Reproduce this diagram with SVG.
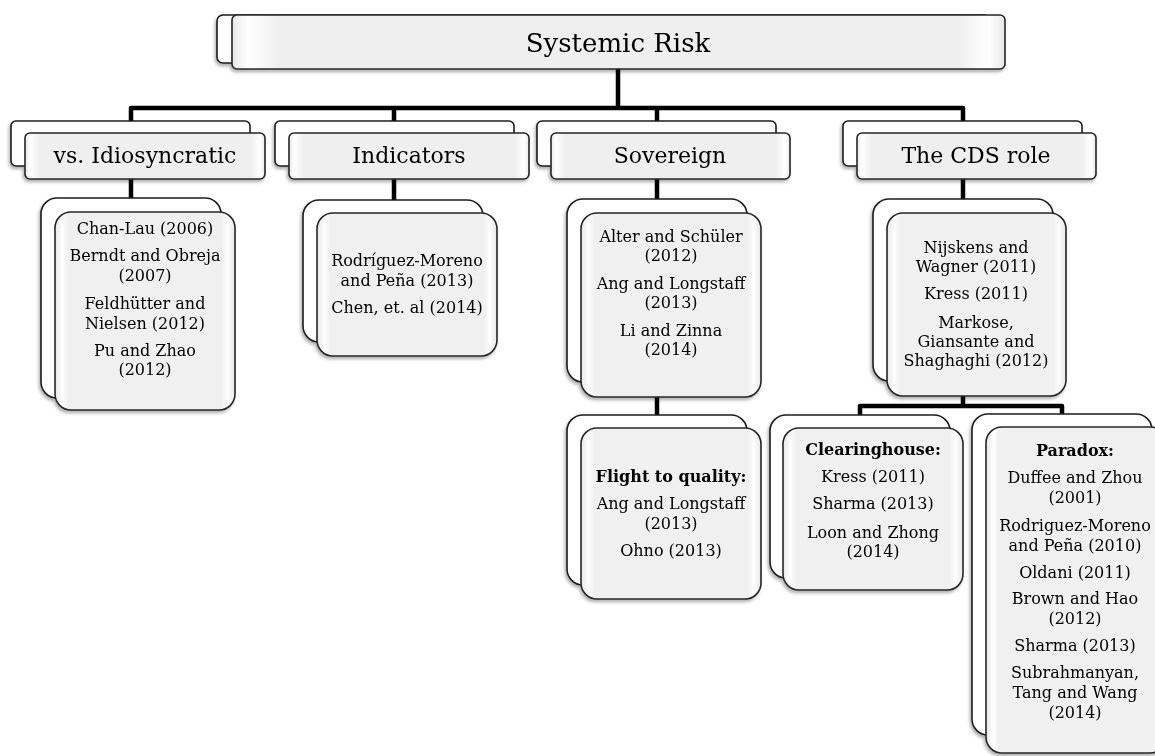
<svg xmlns="http://www.w3.org/2000/svg" width="1155" height="756" viewBox="0 0 1155 756">
  <defs>
    <linearGradient id="bevelWide" x1="0" y1="0" x2="1" y2="0">
      <stop offset="0" stop-color="#e6e6e6"/>
      <stop offset="0.02" stop-color="#ffffff"/>
      <stop offset="0.06" stop-color="#efefef"/>
      <stop offset="0.94" stop-color="#efefef"/>
      <stop offset="0.98" stop-color="#ffffff"/>
      <stop offset="1" stop-color="#e6e6e6"/>
    </linearGradient>
    <linearGradient id="bevelTall" x1="0" y1="0" x2="1" y2="0">
      <stop offset="0" stop-color="#e8e8e8"/>
      <stop offset="0.025" stop-color="#f4f4f4"/>
      <stop offset="0.04" stop-color="#ffffff"/>
      <stop offset="0.07" stop-color="#f0f0f0"/>
      <stop offset="0.93" stop-color="#f0f0f0"/>
      <stop offset="0.96" stop-color="#ffffff"/>
      <stop offset="0.975" stop-color="#f4f4f4"/>
      <stop offset="1" stop-color="#e8e8e8"/>
    </linearGradient>
    <filter id="shadow" x="-10%" y="-10%" width="120%" height="130%">
      <feDropShadow dx="-1.5" dy="2.5" stdDeviation="1.8" flood-color="#000" flood-opacity="0.3"/>
    </filter>
  </defs>
  <style>
    .back { fill: #ffffff; stroke: #1c1c1c; stroke-width: 1.6; }
    .front1 { fill: url(#bevelWide); stroke: #262626; stroke-width: 1.6; }
    .front2 { fill: url(#bevelTall); stroke: #262626; stroke-width: 1.6; }
    .conn { fill: none; stroke: #000; stroke-width: 4.5; stroke-linejoin: round; }
    .t0 { font-family: "DejaVu Serif", "Liberation Serif", serif; font-size: 26px; fill: #000; text-anchor: middle; }
    .t1 { font-family: "DejaVu Serif", "Liberation Serif", serif; font-size: 22px; fill: #000; text-anchor: middle; }
    .t2 { font-family: "DejaVu Serif", "Liberation Serif", serif; font-size: 16px; fill: #000; text-anchor: middle; }
    .b { font-weight: bold; }
  </style>

  <!-- connectors -->
  <g id="connectors">
    <path class="conn" d="M618,69 V108"/>
    <path class="conn" d="M131,121 V108 H963 V121"/>
    <path class="conn" d="M394,108 V121"/>
    <path class="conn" d="M657,108 V121"/>
    <path class="conn" d="M131,179 V198"/>
    <path class="conn" d="M394,179 V200"/>
    <path class="conn" d="M657,179 V199"/>
    <path class="conn" d="M963,179 V199"/>
    <path class="conn" d="M657,397 V415"/>
    <path class="conn" d="M963,396 V406"/>
    <path class="conn" d="M860,415 V406 H1062 V414"/>
  </g>

  <!-- root -->
  <g id="systemic-risk" filter="url(#shadow)">
    <rect class="back" x="217" y="15" width="773" height="48" rx="6"/>
    <rect class="front1" x="232" y="15" width="773" height="54" rx="5"/>
    <text class="t0" x="618" y="52">Systemic Risk</text>
  </g>

  <!-- first level -->
  <g id="vs-idiosyncratic" filter="url(#shadow)">
    <rect class="back" x="11" y="121" width="239" height="45" rx="5"/>
    <rect class="front1" x="25" y="133" width="240" height="46" rx="5"/>
    <text class="t1" x="145" y="163">vs. Idiosyncratic</text>
  </g>
  <g id="indicators" filter="url(#shadow)">
    <rect class="back" x="275" y="121" width="239" height="45" rx="5"/>
    <rect class="front1" x="289" y="133" width="240" height="46" rx="5"/>
    <text class="t1" x="409" y="163">Indicators</text>
  </g>
  <g id="sovereign" filter="url(#shadow)">
    <rect class="back" x="537" y="121" width="239" height="45" rx="5"/>
    <rect class="front1" x="551" y="133" width="239" height="46" rx="5"/>
    <text class="t1" x="670" y="163">Sovereign</text>
  </g>
  <g id="cds-role" filter="url(#shadow)">
    <rect class="back" x="843" y="121" width="239" height="45" rx="5"/>
    <rect class="front1" x="857" y="133" width="239" height="46" rx="5"/>
    <text class="t1" x="976" y="163">The CDS role</text>
  </g>

  <!-- second level -->
  <g id="idiosyncratic-refs" filter="url(#shadow)">
    <rect class="back" x="41" y="198" width="180" height="200" rx="16"/>
    <rect class="front2" x="55" y="212" width="180" height="198" rx="16"/>
    <text class="t2" x="145" y="234">Chan-Lau (2006)</text>
    <text class="t2" x="145" y="261">Berndt and Obreja</text>
    <text class="t2" x="145" y="281">(2007)</text>
    <text class="t2" x="145" y="309">Feldhütter and</text>
    <text class="t2" x="145" y="329">Nielsen (2012)</text>
    <text class="t2" x="145" y="356">Pu and Zhao</text>
    <text class="t2" x="145" y="375">(2012)</text>
  </g>
  <g id="indicators-refs" filter="url(#shadow)">
    <rect class="back" x="303" y="200" width="180" height="142" rx="16"/>
    <rect class="front2" x="317" y="213" width="180" height="143" rx="16"/>
    <text class="t2" x="407" y="266">Rodríguez-Moreno</text>
    <text class="t2" x="407" y="286">and Peña (2013)</text>
    <text class="t2" x="407" y="313">Chen, et. al (2014)</text>
  </g>
  <g id="sovereign-refs" filter="url(#shadow)">
    <rect class="back" x="567" y="199" width="180" height="183" rx="16"/>
    <rect class="front2" x="581" y="213" width="180" height="184" rx="16"/>
    <text class="t2" x="671" y="242">Alter and Schüler</text>
    <text class="t2" x="671" y="261">(2012)</text>
    <text class="t2" x="671" y="289">Ang and Longstaff</text>
    <text class="t2" x="671" y="308">(2013)</text>
    <text class="t2" x="671" y="336">Li and Zinna</text>
    <text class="t2" x="671" y="355">(2014)</text>
  </g>
  <g id="flight-to-quality" filter="url(#shadow)">
    <rect class="back" x="567" y="415" width="180" height="170" rx="16"/>
    <rect class="front2" x="581" y="428" width="180" height="171" rx="16"/>
    <text class="t2 b" x="671" y="482">Flight to quality:</text>
    <text class="t2" x="671" y="509">Ang and Longstaff</text>
    <text class="t2" x="671" y="529">(2013)</text>
    <text class="t2" x="671" y="556">Ohno (2013)</text>
  </g>
  <g id="cds-refs" filter="url(#shadow)">
    <rect class="back" x="873" y="199" width="180" height="182" rx="16"/>
    <rect class="front2" x="887" y="213" width="179" height="183" rx="16"/>
    <text class="t2" x="976" y="253">Nijskens and</text>
    <text class="t2" x="976" y="272">Wagner (2011)</text>
    <text class="t2" x="976" y="299">Kress (2011)</text>
    <text class="t2" x="976" y="328">Markose,</text>
    <text class="t2" x="976" y="347">Giansante and</text>
    <text class="t2" x="976" y="366">Shaghaghi (2012)</text>
  </g>
  <g id="clearinghouse" filter="url(#shadow)">
    <rect class="back" x="770" y="415" width="180" height="163" rx="16"/>
    <rect class="front2" x="783" y="428" width="180" height="162" rx="16"/>
    <text class="t2 b" x="873" y="455">Clearinghouse:</text>
    <text class="t2" x="873" y="482">Kress (2011)</text>
    <text class="t2" x="873" y="509">Sharma (2013)</text>
    <text class="t2" x="873" y="538">Loon and Zhong</text>
    <text class="t2" x="873" y="557">(2014)</text>
  </g>
  <g id="paradox" filter="url(#shadow)">
    <rect class="back" x="972" y="414" width="180" height="321" rx="16"/>
    <rect class="front2" x="986" y="427" width="180" height="326" rx="16"/>
    <text class="t2 b" x="1075" y="456">Paradox:</text>
    <text class="t2" x="1075" y="483">Duffee and Zhou</text>
    <text class="t2" x="1075" y="503">(2001)</text>
    <text class="t2" x="1075" y="531">Rodriguez-Moreno</text>
    <text class="t2" x="1075" y="551">and Peña (2010)</text>
    <text class="t2" x="1075" y="578">Oldani (2011)</text>
    <text class="t2" x="1075" y="604">Brown and Hao</text>
    <text class="t2" x="1075" y="624">(2012)</text>
    <text class="t2" x="1075" y="651">Sharma (2013)</text>
    <text class="t2" x="1075" y="678">Subrahmanyan,</text>
    <text class="t2" x="1075" y="698">Tang and Wang</text>
    <text class="t2" x="1075" y="718">(2014)</text>
  </g>
</svg>
